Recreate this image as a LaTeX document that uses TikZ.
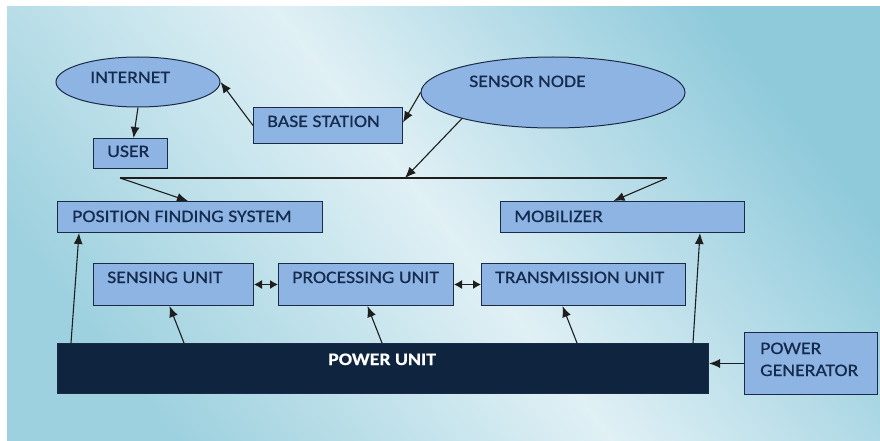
\documentclass[tikz,border=0pt]{standalone}
\usepackage{fontspec}
\usetikzlibrary{shapes.geometric,arrows.meta}
\newfontfamily\lblfont[FakeStretch=1.13,FakeBold=0.6]{Carlito}

\definecolor{boxfill}{HTML}{8EB4E3}
\definecolor{boxline}{HTML}{1B2A47}
\definecolor{navy}{HTML}{0F243E}
\definecolor{txtcol}{HTML}{142B4D}
\definecolor{linecol}{HTML}{1E1E1E}
\definecolor{bgdark}{HTML}{8FCADB}
\definecolor{bgdarkb}{HTML}{9ED1DF}
\definecolor{bglight}{HTML}{E0F0F5}

\tikzset{
  blk/.style={draw=boxline, fill=boxfill, line width=1pt, inner sep=0pt, anchor=north west},
  oval/.style={ellipse, draw=boxline, fill=boxfill, line width=1pt, inner sep=0pt},
  lbl/.style={anchor=base west, inner sep=0pt, text=txtcol, font=\lblfont\fontsize{17.5}{21}\selectfont},
  link/.style={-{Latex[length=11pt,width=9pt]}, line width=1.1pt, draw=linecol},
  both/.style={{Latex[length=8pt,width=9pt]}-{Latex[length=8pt,width=9pt]}, line width=1.1pt, draw=linecol},
}

\begin{document}
\begin{tikzpicture}[x=1pt,y=-1pt]
        \useasboundingbox (0,0) rectangle (880,441) ;
        \fill[white] (0,0) rectangle (880,441) ;
        \shade[top color=bgdark, bottom color=bgdarkb, middle color=bglight, shading angle=-52]
          (7,7) rectangle (880,441) ;
        % top row
        \node[oval, minimum width=164pt, minimum height=50pt] (inet) at (138,82) {} ;
        \node[oval, minimum width=264pt, minimum height=71pt] (sensor) at (553,92.5) {} ;
        \node[blk, minimum width=149pt, minimum height=36pt] (base) at (253,107) {} ;
        \node[blk, minimum width=74pt, minimum height=30pt] (user) at (93,138) {} ;
        \node[lbl] (inet-t) at (90,83) {INTERNET} ;
        \node[lbl] (sensor-t) at (469,87) {SENSOR NODE} ;
        \node[lbl] (base-t) at (267,127) {BASE STATION} ;
        \node[lbl] (user-t) at (107,157) {USER} ;
        % middle rows
        \node[blk, minimum width=265pt, minimum height=31pt] (pfs) at (57,201) {} ;
        \node[blk, minimum width=244pt, minimum height=31pt] (mob) at (500,201) {} ;
        \node[lbl] (pfs-t) at (72,222) {POSITION FINDING SYSTEM} ;
        \node[lbl] (mob-t) at (514,222) {MOBILIZER} ;
        \node[blk, minimum width=160pt, minimum height=42pt] (sense) at (93,263) {} ;
        \node[blk, minimum width=175pt, minimum height=42pt] (proc) at (278,263) {} ;
        \node[blk, minimum width=204pt, minimum height=42pt] (trans) at (481,263) {} ;
        \node[lbl] (sense-t) at (107,283) {SENSING UNIT} ;
        \node[lbl] (proc-t) at (292,283) {PROCESSING UNIT} ;
        \node[lbl] (trans-t) at (495,283) {TRANSMISSION UNIT} ;
        % power
        \node[blk, fill=navy, minimum width=651pt, minimum height=50pt] (power) at (57,343) {} ;
        \node[lbl, text=white, font=\lblfont\bfseries\fontsize{17.5}{21}\selectfont] (power-t) at (328,365) {POWER UNIT} ;
        \node[blk, minimum width=133pt, minimum height=62pt] (gen) at (744,332) {} ;
        \node[lbl] (gen-t1) at (760,354) {POWER} ;
        \node[lbl] (gen-t2) at (760,376) {GENERATOR} ;
        % bus line
        \coordinate (busl) at (120,178) ;
        \coordinate (busr) at (667,178) ;
        \coordinate (busm) at (405,178) ;
        \draw[line width=1.1pt, draw=linecol] (busl) -- (busr) ;
        % connectors
        \draw[link] (base.west) -- (inet.east) ;
        \draw[link] (inet.south) -- ([xshift=3pt]user.north) ;
        \draw[link] (sensor.west) -- ([yshift=3pt]base.east) ;
        \draw[link] (sensor.196) -- (busm) ;
        \draw[link] (busl) -- ([xshift=-2pt]pfs.north) ;
        \draw[link] (busr) -- ([xshift=-9pt]mob.north) ;
        \draw[link] ([xshift=14pt]power.north west) -- ([xshift=22pt]pfs.south west) ;
        \draw[link] ([xshift=-16pt]power.north east) -- ([xshift=-45pt]mob.south east) ;
        \draw[link] ([xshift=127pt]power.north west) -- ([xshift=-4pt]sense.south) ;
        \draw[link] ([xshift=325pt]power.north west) -- ([xshift=1.5pt]proc.south) ;
        \draw[link] ([xshift=520pt]power.north west) -- ([xshift=-21pt]trans.south) ;
        \draw[link] (gen.west) -- (gen.west -| power.east) ;
        \draw[both] (sense.east) -- (proc.west) ;
        \draw[both] (proc.east) -- (trans.west) ;
      \end{tikzpicture}
\end{document}
